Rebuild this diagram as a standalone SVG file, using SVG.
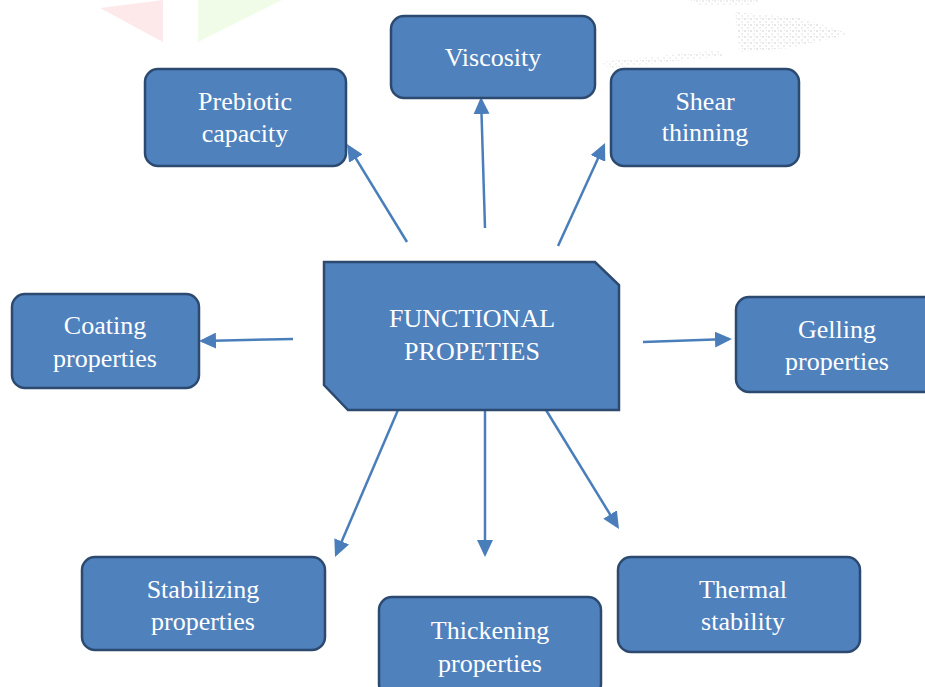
<svg xmlns="http://www.w3.org/2000/svg" width="925" height="687" viewBox="0 0 925 687">
  <style>
    .box { fill: #4f81bd; stroke: #2c4a70; stroke-width: 2.5; }
    .lbl { font-family: "Liberation Serif", "Times New Roman", serif; font-size: 26px; fill: #ffffff; text-anchor: middle; }
    .conn { stroke: #4a7ebb; stroke-width: 2.5; fill: none; marker-end: url(#head); }
  </style>
  <defs>
    <marker id="head" markerUnits="userSpaceOnUse" markerWidth="20" markerHeight="16" refX="14" refY="8" orient="auto">
      <path d="M0,0 L17,8 L0,16 z" fill="#4a7ebb"/>
    </marker>
    <!-- speckled grey fill for the faint top-edge marks -->
    <pattern id="speckle" patternUnits="userSpaceOnUse" width="6" height="6">
      <rect x="0" y="0" width="2" height="2" fill="#d9d9d9"/>
      <rect x="3" y="3" width="2" height="2" fill="#e4e4e4"/>
      <rect x="4" y="0" width="1" height="1" fill="#cfcfcf"/>
    </pattern>
  </defs>

  <rect width="925" height="687" fill="#ffffff"/>

  <!-- faint background decoration along the top edge -->
  <g id="backdrop">
    <polygon points="100,8 163,0 163,42" fill="#fde3e3" opacity="0.8"/>
    <polygon points="198,0 282,0 198,42" fill="#eefbe6" opacity="0.9"/>
    <polygon points="735,12 800,18 850,34 790,48 740,52" fill="url(#speckle)" opacity="0.6"/>
    <polygon points="600,62 720,50 725,56 610,68" fill="url(#speckle)" opacity="0.5"/>
    <polygon points="690,0 760,0 750,6 700,6" fill="url(#speckle)" opacity="0.5"/>
  </g>

  <g id="connectors">
    <path class="conn" d="M407,242 L348.6,146.6"/>
    <path class="conn" d="M485,228 L481.1,100"/>
    <path class="conn" d="M558,246 L603.8,145.7"/>
    <path class="conn" d="M293,339 L202,340.9"/>
    <path class="conn" d="M643,342 L729,339.1"/>
    <path class="conn" d="M398,410 L336.2,554.2"/>
    <path class="conn" d="M485,410 L485,554"/>
    <path class="conn" d="M546,410 L617.4,526.4"/>
  </g>

  <g id="functional-properties">
    <polygon class="box" points="324,262 595,262 619,285 619,410 348,410 324,385"/>
    <text class="lbl" x="472" y="327">FUNCTIONAL</text>
    <text class="lbl" x="472" y="360">PROPETIES</text>
  </g>

  <g id="viscosity">
    <rect class="box" x="391" y="16" width="204" height="82" rx="13"/>
    <text class="lbl" x="493" y="66">Viscosity</text>
  </g>

  <g id="prebiotic-capacity">
    <rect class="box" x="145" y="69" width="201" height="97" rx="13"/>
    <text class="lbl" x="245" y="110">Prebiotic</text>
    <text class="lbl" x="245" y="142">capacity</text>
  </g>

  <g id="shear-thinning">
    <rect class="box" x="611" y="69" width="188" height="97" rx="13"/>
    <text class="lbl" x="705" y="110">Shear</text>
    <text class="lbl" x="705" y="141">thinning</text>
  </g>

  <g id="coating-properties">
    <rect class="box" x="12" y="294" width="187" height="94" rx="13"/>
    <text class="lbl" x="105" y="334">Coating</text>
    <text class="lbl" x="105" y="367">properties</text>
  </g>

  <g id="gelling-properties">
    <rect class="box" x="736" y="297" width="202" height="95" rx="13"/>
    <text class="lbl" x="837" y="338">Gelling</text>
    <text class="lbl" x="837" y="370">properties</text>
  </g>

  <g id="stabilizing-properties">
    <rect class="box" x="82" y="557" width="243" height="93" rx="13"/>
    <text class="lbl" x="203" y="598">Stabilizing</text>
    <text class="lbl" x="203" y="630">properties</text>
  </g>

  <g id="thickening-properties">
    <rect class="box" x="379" y="597" width="222" height="100" rx="13"/>
    <text class="lbl" x="490" y="639">Thickening</text>
    <text class="lbl" x="490" y="672">properties</text>
  </g>

  <g id="thermal-stability">
    <rect class="box" x="618" y="557" width="242" height="95" rx="13"/>
    <text class="lbl" x="743" y="598">Thermal</text>
    <text class="lbl" x="743" y="630">stability</text>
  </g>
</svg>
